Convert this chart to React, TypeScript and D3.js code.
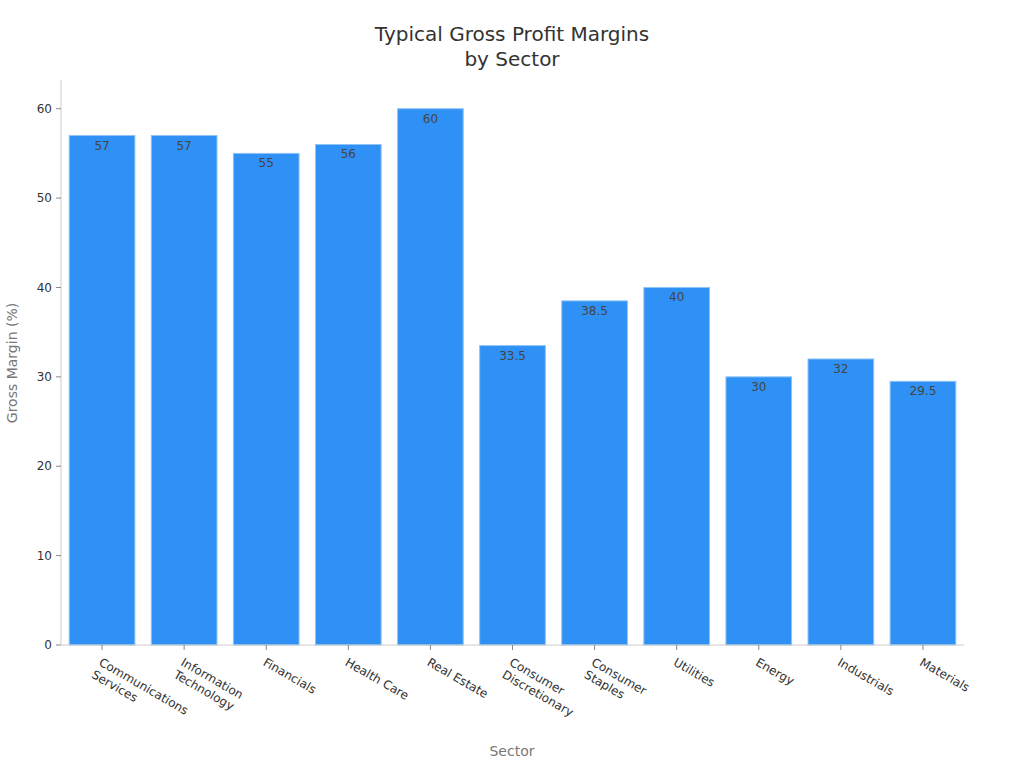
import React from "react";
import * as d3 from "d3";

const categories: string[][] = [
  ["Communications", "Services"],
  ["Information", "Technology"],
  ["Financials"],
  ["Health Care"],
  ["Real Estate"],
  ["Consumer", "Discretionary"],
  ["Consumer", "Staples"],
  ["Utilities"],
  ["Energy"],
  ["Industrials"],
  ["Materials"],
];
const margins: number[] = [57, 57, 55, 56, 60, 33.5, 38.5, 40, 30, 32, 29.5];
const yTicks: number[] = [0, 10, 20, 30, 40, 50, 60];

const W = 1024;
const H = 768;
const left = 61;
const right = 964;
const top = 81;
const bottom = 645;
const font = "DejaVu Sans, sans-serif";

export default function App() {
  const keys = categories.map((c) => c.join(" "));
  const x = d3.scaleBand<string>().domain(keys).range([left, right]).paddingInner(0.2).paddingOuter(0.1);
  const y = d3.scaleLinear().domain([0, 63.1]).range([bottom, top]);

  return (
    <svg width={W} height={H} style={{ position: "absolute", left: 0, top: 0 }} fontFamily={font}>
      <rect width={W} height={H} fill="#fff" />
      <text x={512} y={41} textAnchor="middle" fontSize={20} fill="#333">Typical Gross Profit Margins</text>
      <text x={512} y={66} textAnchor="middle" fontSize={20} fill="#333">by Sector</text>

      {/* y axis */}
      <line x1={left} x2={left} y1={top - 1} y2={bottom} stroke="#ccc" />
      {yTicks.map((t) => (
        <g key={t}>
          <line x1={left - 5} x2={left} y1={y(t)} y2={y(t)} stroke="#888" />
          <text x={left - 9} y={y(t)} dy="0.35em" textAnchor="end" fontSize={12} fill="#333">{t}</text>
        </g>
      ))}
      <text transform={`translate(17,${(top + bottom) / 2}) rotate(-90)`} textAnchor="middle" fontSize={14} fill="#777">Gross Margin (%)</text>

      {/* bars */}
      {margins.map((v, i) => {
        const k = keys[i];
        const bx = x(k)!;
        return (
          <g key={k}>
            <rect x={bx} y={y(v)} width={x.bandwidth()} height={bottom - y(v)} fill="#2F91F5" stroke="#8EC3F5" strokeWidth={1} />
            <text x={bx + x.bandwidth() / 2} y={y(v) + 14} textAnchor="middle" fontSize={12} fill="#444">{v}</text>
          </g>
        );
      })}

      {/* x axis */}
      <line x1={left} x2={right} y1={bottom} y2={bottom} stroke="#ccc" />
      {categories.map((c, i) => {
        const cx = x(keys[i])! + x.bandwidth() / 2;
        return (
          <g key={keys[i]}>
            <line x1={cx} x2={cx} y1={bottom} y2={bottom + 5} stroke="#888" />
            <text transform={`translate(${cx - 2},${bottom + 16}) rotate(30)`} fontSize={12} fill="#333">
              {c.map((line, j) => (
                <tspan key={j} x={0} y={0} dy={`${0.35 + j * 1.2}em`}>
                  {line}
                </tspan>
              ))}
            </text>
          </g>
        );
      })}
      <text x={512} y={756} textAnchor="middle" fontSize={14} fill="#777">Sector</text>
    </svg>
  );
}
